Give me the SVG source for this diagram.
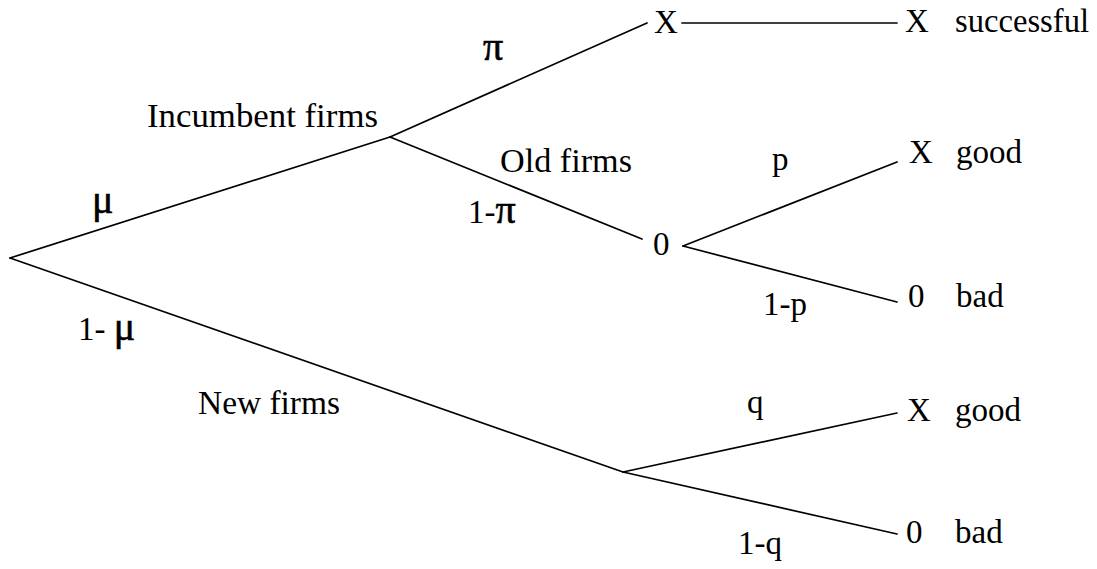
<svg xmlns="http://www.w3.org/2000/svg" width="1097" height="569" viewBox="0 0 1097 569">
<style>
.t{font-family:"Liberation Serif","Times New Roman",serif;font-size:33px;fill:#000}
.g{font-family:"Liberation Serif","Times New Roman",serif;font-size:40px;fill:#000;stroke:#000;stroke-width:0.6}
.e{stroke:#000;stroke-width:1.7;fill:none;stroke-linecap:round}
</style>
<rect width="1097" height="569" fill="#fff"/>
<g id="connectors">
<line class="e" x1="10" y1="258" x2="390" y2="137"/>
<line class="e" x1="10" y1="258" x2="623" y2="472"/>
<line class="e" x1="390" y1="137" x2="647" y2="23"/>
<line class="e" x1="390" y1="137" x2="642" y2="239"/>
<line class="e" x1="682" y1="23" x2="897" y2="23"/>
<line class="e" x1="683" y1="246" x2="897" y2="162"/>
<line class="e" x1="683" y1="246" x2="897" y2="302"/>
<line class="e" x1="623" y1="472" x2="897" y2="413"/>
<line class="e" x1="623" y1="472" x2="897" y2="534"/>
</g>
<g id="edge-labels">
<text class="g" x="483" y="60">π</text>
<text class="g" x="92" y="213">μ</text>
<text class="t" x="468" y="223">1-<tspan class="g">π</tspan></text>
<text class="t" x="78" y="340">1- <tspan class="g">μ</tspan></text>
<text class="t" x="772" y="170">p</text>
<text class="t" x="763" y="315">1-p</text>
<text class="t" x="747" y="413">q</text>
<text class="t" x="738" y="554">1-q</text>
</g>
<g id="node-root"></g>
<g id="node-incumbent"><text class="t" x="147" y="127" textLength="231" lengthAdjust="spacingAndGlyphs">Incumbent firms</text></g>
<g id="node-old"><text class="t" x="500" y="172" textLength="132" lengthAdjust="spacingAndGlyphs">Old firms</text></g>
<g id="node-new"><text class="t" x="198" y="414" textLength="142" lengthAdjust="spacingAndGlyphs">New firms</text></g>
<g id="node-top-x"><text class="t" x="654" y="33">X</text></g>
<g id="node-successful"><text class="t" x="905" y="32">X</text><text class="t" x="955" y="32" textLength="134" lengthAdjust="spacingAndGlyphs">successful</text></g>
<g id="node-old-0"><text class="t" x="653" y="255">0</text></g>
<g id="node-old-good"><text class="t" x="909" y="163">X</text><text class="t" x="956" y="163">good</text></g>
<g id="node-old-bad"><text class="t" x="908" y="307">0</text><text class="t" x="956" y="307">bad</text></g>
<g id="node-new-good"><text class="t" x="907" y="421">X</text><text class="t" x="955" y="421">good</text></g>
<g id="node-new-bad"><text class="t" x="906" y="543">0</text><text class="t" x="955" y="543">bad</text></g>
</svg>
